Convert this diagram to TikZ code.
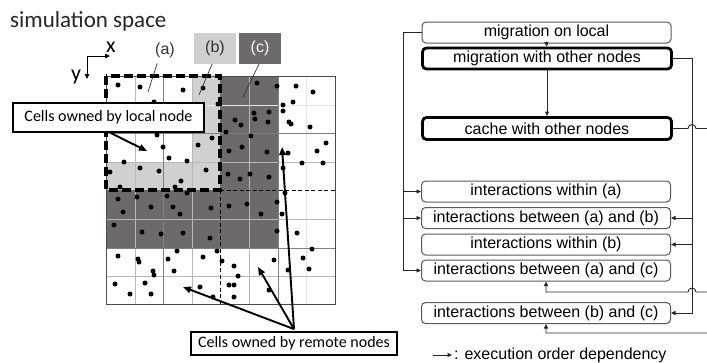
\documentclass[tikz,border=0pt]{standalone}
\usepackage{fontspec}
\setmainfont{Carlito}
\newfontfamily\arialf{Liberation Sans}
\usetikzlibrary{arrows.meta,calc}
\definecolor{lgray}{HTML}{D0D0D0}
\definecolor{dgray}{HTML}{6F6A6A}
\begin{document}
\begin{tikzpicture}[x=1pt,y=-1pt,
  flow/.style={draw=black!65, line width=1pt, rounded corners=4pt, minimum width=249pt, minimum height=21pt, inner sep=0pt, font=\arialf\fontsize{16}{18}\selectfont, fill=white},
  flowthick/.style={flow, draw=black, line width=2.8pt},
  farr/.style={-{Triangle[length=4.5pt,width=4pt]}, line width=0.9pt, black!85},
  fline/.style={line width=0.9pt, black!85},
  callout/.style={draw=black, line width=1.8pt, fill=white, inner sep=0pt, font=\fontsize{16}{18}\selectfont},
  bigarr/.style={-{Triangle[length=8pt,width=6.5pt]}, line width=1.9pt},
  lab/.style={inner sep=0pt, font=\arialf\fontsize{16}{18}\selectfont},
  leader/.style={line width=0.7pt, black!80},
  minorgrid/.style={line width=0.7pt, black!28},
  majorgrid/.style={line width=0.8pt, black!50},
  faintgrid/.style={line width=0.6pt, black!10}
]
\useasboundingbox (0,0) rectangle (707,362);

% ---------------- left: simulation space ----------------
\node[anchor=base west, inner sep=0pt, text=black!85, font=\fontsize{23}{26}\selectfont] (title) at (10,27) {simulation space};

\coordinate (o) at (87,56);
\coordinate (xe) at (110,56);
\coordinate (ye) at (87,79);
\draw[-{Triangle[length=5pt,width=4.5pt]}, line width=0.9pt] (o) -- (xe);
\draw[-{Triangle[length=5pt,width=4.5pt]}, line width=0.9pt] (o) -- (ye);
\node[anchor=base, inner sep=0pt, font=\fontsize{22}{24}\selectfont] (xl) at (111,52) {x};
\node[anchor=base, inner sep=0pt, font=\fontsize{22}{24}\selectfont] (yl) at (76,80) {y};

% fills
\fill[lgray] (192,76) rectangle (220,190);
\fill[lgray] (106,162) rectangle (220,190);
\fill[dgray] (220,76) rectangle (278,248);
\fill[dgray] (106,190) rectangle (220,248);

% grid
\draw[faintgrid] (306,76) -- (306,304);
\draw[faintgrid] (106,105) -- (335,105);
\foreach \gx in {135,192,249} \draw[minorgrid] (\gx,76) -- (\gx,304);
\foreach \gy in {162,219,276} \draw[minorgrid] (106,\gy) -- (335,\gy);
\foreach \gx in {163,278} \draw[majorgrid] (\gx,76) -- (\gx,304);
\foreach \gy in {133,248} \draw[majorgrid] (106,\gy) -- (335,\gy);
\draw[black!70, line width=0.9pt] (106,76) rectangle (335,304);

% particles
\foreach \p in {(118,85),(140,87),(183,90),(203,88),(154,102),(218,104),
  (157,135),(163,147),(212,138),(198,145),
  (124,162),(169,158),(187,161),(110,172),(140,168),(159,171),(206,170),(181,181),(175,187),(120,187),
  (257,83),(277,86),(296,86),(313,92),(293,102),(283,105),(283,111),(254,113),(269,112),(255,119),(268,122),(235,120),(241,125),(289,122),(291,124),(310,127),(226,132),(251,136),(242,147),(229,151),(267,152),(288,153),(317,151),(326,143),(302,163),(323,163),(228,174),(240,179),(250,174),(269,177),(283,168),
  (118,199),(137,197),(151,207),(167,196),(173,207),(180,214),(187,193),(211,208),(123,212),(114,225),(142,232),(161,234),(183,233),(210,238),
  (118,256),(138,259),(139,262),(168,259),(177,251),(174,271),(153,271),(154,275),(203,257),(217,251),(222,261),(115,284),(145,283),(130,294),(151,294),(200,287),(213,297),
  (229,206),(247,204),(277,202),(261,214),(282,214),(277,231),(297,233),(234,266),(238,276),(229,285),(234,285),(234,297),(274,260),(288,270),(303,258),(312,249),(309,269),(269,290),(285,193)}
  \fill[black] \p circle (2.5);

% dashed borders
\draw[line width=1pt, dash pattern=on 4pt off 2.5pt] (220,190) -- (335,190);
\draw[line width=1pt, dash pattern=on 4pt off 2.5pt] (220,190) -- (220,304);
\draw[line width=3.2pt, dash pattern=on 9pt off 4pt] (106,76) rectangle (220,190);

% region labels
\node[lab, text=black!80] (la) at (165,50) {(a)};
\node[lab, fill=lgray, text=black!80, minimum width=42pt, minimum height=31pt] (lb) at (215,48.5) {(b)};
\node[lab, fill=dgray, text=white, minimum width=42pt, minimum height=31pt] (lc) at (260,48.5) {(c)};
\coordinate (a2) at (148,92);
\coordinate (b2) at (199,95);
\coordinate (c2) at (243,97);
\draw[leader, shorten <=6pt] ([xshift=-6pt]la.south) -- (a2);
\draw[leader] ([xshift=-3pt]lb.south) -- (b2);
\draw[leader] ([xshift=-1pt]lc.south) -- (c2);

% callouts
\node[callout, minimum width=191pt, minimum height=29pt] (local) at (108.5,117.5) {Cells owned by local node};
\coordinate (lt) at (147,151);
\draw[bigarr] ([xshift=2pt]local.south) -- (lt);

\coordinate (r1) at (183,287);
\coordinate (r2) at (258,267);
\coordinate (r3) at (282,147);
\node[callout, minimum width=206pt, minimum height=23pt] (remote) at (294,343.5) {Cells owned by remote nodes};
\draw[bigarr] ([yshift=2pt]remote.north) -- (r1);
\draw[bigarr] ([yshift=2pt]remote.north) -- (r2);
\draw[bigarr] ([yshift=2pt]remote.north) -- (r3);

% ---------------- right: execution order ----------------
\node[flow] (mol) at (546.5,32.5) {migration on local};
\node[flowthick] (mwo) at (547,58.5) {migration with other nodes};
\node[flowthick, minimum height=22pt] (cache) at (547,128.5) {cache with other nodes};
\node[flow] (wa) at (546,191.5) {interactions within (a)};
\node[flow] (ab) at (546,218) {interactions between (a) and (b)};
\node[flow] (wb) at (546,244.5) {interactions within (b)};
\node[flow] (ac) at (546,270.5) {interactions between (a) and (c)};
\node[flow] (bc) at (546,313) {interactions between (b) and (c)};

\draw[farr] (mol.south) -- (mwo.north);
\draw[farr] (mwo.south) -- (cache.north);

\coordinate (lx) at (403,0);
\draw[farr] (mol.west) -| (lx |- ac.west) -- (ac.west);
\draw[farr] (lx |- wa.west) -- (wa.west);
\draw[farr] (lx |- ab.west) -- (ab.west);

\coordinate (rx) at (692,0);
\draw[farr] (mwo.east) -| (rx |- bc.east) -- (bc.east);
\draw[farr] (rx |- ab.east) -- (ab.east);
\draw[farr] (rx |- wb.east) -- (wb.east);

\coordinate (ex) at (712,0);
\coordinate (ya) at (0,292);
\coordinate (yb) at (0,333);
\draw[farr] (cache.east) -- ($(rx |- cache.east)+(-4,0)$) arc[start angle=180,end angle=360,radius=4] -- (ex |- cache.east) |- (bc.south |- yb) -- (bc.south);
\draw[farr] (ex |- ya) -- ($(rx |- ya)+(4,0)$) arc[start angle=0,end angle=-180,radius=4] -- (ac.south |- ya) -- (ac.south);

% legend
\coordinate (lgs) at (433,355);
\node[lab, anchor=west] (leg) at (454,355) {: execution order dependency};
\draw[farr] (lgs) -- ([xshift=-2pt]leg.west);
\end{tikzpicture}
\end{document}
